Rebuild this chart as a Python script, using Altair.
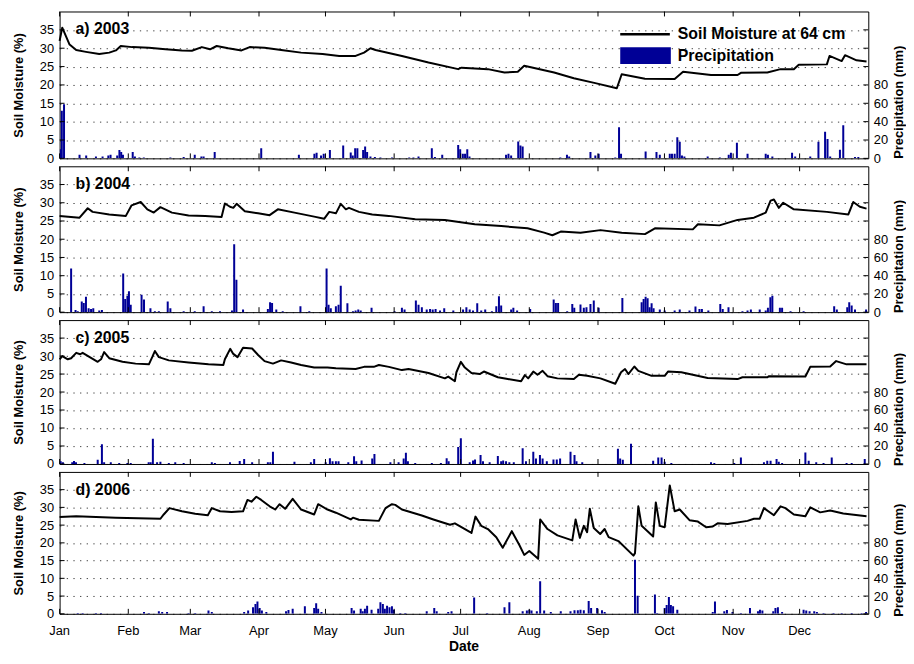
import altair as alt
import pandas as pd

MONTHS = ["Jan", "Feb", "Mar", "Apr", "May", "Jun", "Jul", "Aug", "Sep", "Oct", "Nov", "Dec"]
MONTH_START = [0, 31, 59, 90, 120, 151, 181, 212, 243, 273, 304, 334]
PANEL_LABELS = ["a) 2003", "b) 2004", "c) 2005", "d) 2006"]
SM_TICKS = [0, 5, 10, 15, 20, 25, 30, 35]
PR_TICKS = [0, 20, 40, 60, 80]
X_TITLE = "Date"

# Soil moisture at 64 cm (%), day-of-year and value
SM_DAYS_2003 = [0, 1.2, 4.5, 7.5, 11.9, 17.9, 22.4, 25.4, 27.6, 32.8, 40.3, 47.8, 55.2, 59.7, 64.2, 67.9, 70.9, 76.1, 82.1, 85.8, 92.5, 100, 109, 118.7, 126.2, 133.6, 137.4, 140.3, 142.6, 154.5, 166.5, 179.9, 181.4, 193.3, 200.8, 206.8, 209.7, 223.2, 232.1, 241.8, 251.5, 253.7, 264.2, 277.6, 281.4, 294, 306, 307.5, 319.4, 325.4, 331.4, 333.6, 346.3, 347.5, 353, 354.5, 359.7, 364.2]
SM_2003 = [32.0, 35.6, 31.0, 29.5, 29.0, 28.4, 28.8, 29.4, 30.6, 30.3, 30.1, 29.7, 29.4, 29.3, 30.3, 29.7, 30.6, 30.0, 29.4, 30.3, 30.1, 29.5, 28.8, 28.4, 27.9, 27.9, 28.8, 30.0, 29.5, 27.9, 26.1, 24.3, 24.7, 24.3, 23.4, 23.6, 25.2, 23.4, 21.8, 20.5, 19.1, 22.9, 21.7, 21.6, 23.6, 22.7, 22.7, 23.3, 23.4, 24.3, 24.3, 25.5, 25.6, 27.9, 26.5, 28.1, 26.7, 26.4]

SM_DAYS_2004 = [0, 9, 12.7, 14.9, 22.4, 29.9, 32.5, 36.6, 39.6, 42.5, 45.5, 50.7, 58.2, 65.7, 73.1, 74.6, 76.9, 78.4, 79.9, 83.6, 89.6, 94.8, 98.5, 106, 114.9, 119.4, 121.7, 124.7, 126.9, 129.2, 130.6, 135.1, 141.1, 148.6, 160.5, 173.9, 187.4, 199.3, 211.2, 218.7, 222.4, 226.2, 235.1, 244.1, 253.7, 264.2, 268.7, 285.8, 288.1, 297.8, 306, 313.4, 318.7, 320.9, 322.4, 324.6, 326.6, 331.4, 346.3, 356, 358.2, 361.2, 364.2]
SM_2004 = [26.4, 25.9, 28.5, 27.5, 26.8, 26.4, 29.3, 30.2, 28.2, 27.3, 28.8, 27.3, 26.5, 26.4, 26.1, 29.8, 28.9, 28.6, 29.7, 27.7, 27.1, 26.6, 28.2, 27.3, 26.2, 25.6, 27.5, 27.1, 29.7, 28.2, 28.6, 27.5, 26.8, 26.4, 25.5, 25.3, 24.1, 23.6, 23.0, 21.8, 21.1, 22.1, 21.8, 22.5, 21.8, 21.4, 23.0, 22.7, 24.1, 23.8, 25.3, 25.9, 27.3, 30.6, 30.9, 28.6, 30.0, 28.2, 27.5, 26.8, 30.2, 28.9, 28.4]

SM_DAYS_2005 = [0, 1.2, 3.7, 5.2, 7.5, 9.3, 10.4, 17.2, 18.7, 20.1, 22.4, 28.4, 34.3, 40.3, 41.8, 43, 44.8, 49.3, 58.2, 67.2, 73.9, 74.6, 77, 78.4, 80.3, 82.8, 86.9, 89.6, 92.5, 96.3, 100, 104.5, 109, 114.9, 120.9, 124.7, 133.6, 137.4, 141.8, 144.1, 148.6, 154.5, 157.5, 166.5, 173.9, 175.4, 178.4, 179.1, 181.1, 182.9, 185.9, 189.6, 191.5, 197.8, 202.3, 208.3, 210, 211.5, 213.8, 215.7, 218, 220.2, 224.7, 232.1, 234.4, 238.1, 244.1, 250.8, 253.4, 255.2, 256.7, 259.4, 261.2, 267.2, 273.1, 274.6, 280.6, 292.5, 306, 308.2, 319.4, 320.2, 336.6, 338.8, 347.8, 350.5, 355.2, 364.2]
SM_2005 = [29.1, 30.0, 29.1, 29.4, 30.9, 30.5, 30.9, 28.4, 29.1, 31.1, 29.4, 28.4, 27.9, 27.7, 29.7, 31.4, 29.7, 28.8, 28.2, 27.7, 27.5, 29.1, 32.0, 30.6, 29.7, 32.3, 32.1, 30.3, 28.6, 27.9, 28.8, 28.2, 27.5, 26.8, 26.8, 26.6, 26.4, 27.0, 27.0, 27.5, 27.0, 26.1, 26.4, 25.3, 23.8, 24.3, 23.0, 25.5, 28.4, 26.8, 25.3, 25.0, 25.7, 24.1, 23.6, 23.0, 24.7, 23.8, 25.7, 24.8, 25.9, 24.4, 23.8, 23.6, 24.8, 24.5, 23.8, 22.3, 25.5, 26.4, 25.0, 27.1, 25.9, 24.5, 24.5, 25.7, 25.5, 23.9, 23.6, 24.1, 24.1, 24.4, 24.3, 27.0, 27.1, 28.6, 27.7, 27.7]

SM_DAYS_2006 = [0, 7.5, 25.4, 45.5, 47, 49.6, 55.2, 61.2, 66.9, 68.7, 72.4, 77.6, 82.8, 84.8, 86.6, 88.8, 91, 94.8, 97.3, 99.3, 101.8, 105.2, 109, 114.9, 116.7, 120.9, 124.7, 131.4, 132.4, 135.1, 144.1, 147.1, 150, 151.5, 154.5, 163.5, 168.7, 176.2, 178.4, 185.9, 187.7, 190.3, 193.3, 197.1, 200, 204.1, 207.5, 209.7, 212, 216, 216.9, 220.2, 224.7, 231.4, 232.9, 234.8, 236.6, 238.1, 239.3, 241.1, 244, 246, 247.8, 252.2, 259, 259.7, 261.2, 262.7, 267.9, 269.1, 270.9, 273.1, 275.4, 277.6, 279.9, 284.3, 288.1, 291.8, 294.8, 297, 301.5, 310.5, 313.4, 316, 317.9, 322.4, 325.4, 327.6, 331.4, 336.6, 338.8, 343.3, 347.8, 353.7, 364.2]
SM_2006 = [27.3, 27.5, 27.1, 26.8, 28.0, 29.8, 28.9, 28.2, 27.8, 29.8, 28.9, 28.7, 28.9, 32.1, 31.6, 33.0, 32.1, 30.3, 29.4, 30.9, 29.6, 32.4, 29.4, 28.0, 30.9, 29.4, 28.5, 26.6, 27.1, 26.5, 26.2, 29.8, 30.9, 30.7, 29.4, 27.7, 26.6, 25.1, 25.5, 22.8, 27.4, 24.8, 23.9, 21.6, 18.6, 23.3, 19.4, 16.6, 17.7, 15.5, 26.6, 23.9, 22.1, 20.7, 26.6, 21.4, 24.8, 23.0, 29.6, 24.2, 22.5, 23.9, 21.6, 20.5, 16.4, 17.1, 30.3, 24.8, 21.8, 31.4, 24.8, 24.4, 36.2, 28.9, 29.4, 26.4, 26.0, 24.4, 24.6, 25.5, 25.3, 26.2, 26.8, 26.8, 29.8, 27.8, 30.3, 29.8, 28.0, 27.5, 30.0, 28.6, 29.1, 28.3, 27.5]

# Daily precipitation (mm): [day-of-year, mm]
PR_2003 = [[0.5, 10], [1, 52], [2, 59], [9, 4], [12, 3], [16.4, 2], [19.4, 2], [22, 3], [23, 4], [26, 3], [27, 9], [27.8, 7], [28.6, 4], [33, 7], [34, 2], [36, 1], [38, 1], [50, 1], [56, 1.5], [61, 4], [64, 2], [65, 2], [70, 7], [91, 11], [108, 4], [115, 5], [116, 6], [118, 3], [119.2, 5], [122, 9], [128, 14], [131.4, 6.5], [132.3, 3], [133.4, 11], [134.4, 11], [137, 9], [137.9, 13], [138.8, 7], [140.3, 2], [142.3, 1.5], [144.8, 1], [150, 1], [157.8, 1], [159.7, 1], [162, 2], [168, 11], [169.4, 1.5], [172.7, 4], [179.9, 14.5], [180.8, 10], [182, 5], [183, 5], [184, 10], [185, 2], [201.5, 4], [202.6, 5], [203.8, 3], [207, 18.5], [208, 14], [209, 13], [226, 1], [229, 4], [230, 2], [239.6, 7], [241.8, 3], [243.3, 5], [250.8, 1], [252.5, 34], [253.4, 5], [264.5, 7.5], [269.4, 7], [270.9, 4], [275.4, 5], [276.4, 5], [277.6, 5], [278.8, 23], [279.9, 18], [280.9, 3], [282, 2], [292.5, 2], [298, 1], [302, 4], [303, 6], [305.7, 17], [310.5, 5], [318.7, 5], [319.7, 4], [321.7, 2], [330.6, 6], [332, 2], [338.8, 2], [342.5, 18], [345.5, 29], [346.6, 21], [347.8, 2], [352.2, 9.5], [353.7, 36], [359, 1.5], [360.5, 1.5]]

PR_2004 = [[5.2, 48], [7.2, 2.5], [8.2, 1], [10, 11.6], [10.9, 10], [11.9, 17], [13.1, 4.4], [14.2, 3.6], [15.2, 4.4], [17.9, 1.8], [19.1, 2.5], [28.7, 42.5], [29.6, 14.5], [30.6, 18], [31.3, 23], [32.1, 8], [37, 19], [38.1, 14], [41, 4.4], [43, 1], [44.8, 1], [48.8, 11.6], [50, 4.4], [56, 1], [61, 1], [65, 6.5], [68.7, 1], [72.4, 1], [77.8, 1.8], [78.8, 74.5], [79.8, 35.6], [82.8, 3], [94, 3.6], [95, 11], [95.9, 10], [97.8, 3], [100.7, 1], [108.7, 6.5], [112.7, 1], [120.5, 48], [121.4, 8], [122.4, 4.4], [124.7, 6.5], [125.9, 8], [126.9, 29], [129.9, 9.8], [132.4, 1], [133.6, 1.8], [134.8, 3], [135.9, 1.8], [140.8, 4.7], [151.2, 1], [154.5, 4.7], [155.7, 3], [160.8, 12.7], [162, 8], [163.5, 5.5], [165.7, 3], [167.2, 3.6], [168.4, 3], [169.7, 3.6], [171.7, 1.8], [173.6, 4.4], [177.7, 1.8], [182.1, 3], [183.6, 5.5], [185.1, 3], [186.6, 1.8], [188.5, 9.8], [190.3, 1.8], [192.1, 3], [195.1, 1], [197.1, 6.5], [198.3, 17.5], [199.3, 7.3], [203.8, 3], [204.8, 4.7], [206.5, 1.8], [212.4, 3.6], [223, 14], [224, 10], [225, 10], [229.1, 1], [231.4, 9], [232.3, 4.7], [235.1, 8.4], [236.6, 4.7], [237.8, 5.5], [239.6, 9], [241.1, 12.7], [243.3, 4.7], [254, 15.6], [262.7, 11], [263.6, 14.5], [264.5, 17], [265.4, 15.3], [266.3, 5.5], [267.2, 9.8], [268.1, 4.4], [270.9, 3], [273.1, 1.8], [277.6, 1.8], [279.9, 3], [284.3, 1.8], [287, 6.2], [288.8, 3.6], [289.9, 3.6], [292.8, 1.8], [298.2, 9], [299.3, 3.6], [301.9, 5.5], [308.2, 1], [310.5, 1.8], [312, 3], [316, 3], [318.7, 1.8], [319.7, 4.7], [320.8, 16.4], [321.7, 18], [325.1, 4.7], [326.1, 4.7], [329.9, 1], [335.8, 1], [349.6, 6.5], [350.8, 3], [355.5, 5.5], [356.4, 11], [357.5, 7.3], [359, 3], [364, 3]]

PR_2005 = [[0.5, 3], [1.5, 2], [5.7, 2], [6.5, 3.3], [7.4, 2], [11.2, 1], [17.2, 4.7], [19.1, 21.8], [20.1, 2], [23.1, 2], [26.9, 1], [30.6, 1], [32.1, 1], [40.2, 2], [41.1, 2], [42.1, 28], [44, 2], [45.5, 2.5], [49.3, 1], [52.2, 2], [56, 1], [68.7, 2], [70.1, 1], [76.9, 2], [81.3, 3.3], [83.3, 5.5], [86.9, 2], [94, 2], [95.1, 2], [96.3, 13.5], [106, 2.5], [113.4, 2], [114.9, 5.5], [120.1, 2], [122, 6.5], [123.2, 3], [124.7, 3], [125.9, 3], [130.3, 2], [132.9, 8.5], [133.9, 3], [136.3, 4], [141.1, 6], [142.1, 11], [149.3, 2], [153, 2], [155.3, 6], [156.3, 12.5], [157.2, 3], [160.5, 1], [168, 1], [172.1, 1], [174.7, 6.5], [175.6, 3], [179.9, 19], [181.1, 28.5], [185.1, 2], [186.6, 4], [187.5, 5], [190, 10], [191.1, 3], [194.1, 2], [197.8, 9], [199.3, 3], [200.2, 4], [201.5, 3], [203, 2], [205, 2], [209, 17.5], [210.5, 3], [213.8, 13.5], [215, 6], [216.8, 10], [218, 6], [219.9, 3], [222.9, 5], [224.4, 5], [225.9, 6], [230.6, 13.5], [232.4, 10], [233.3, 3], [235.9, 2], [252, 17], [253, 6], [254.2, 4.7], [257.9, 22.5], [267.9, 3.6], [270.2, 7.3], [271.7, 7.3], [273.1, 2.5], [276.1, 1], [294, 2], [295.5, 1], [304.5, 1], [307.5, 7.3], [317.9, 2], [319.4, 3.6], [320.9, 3.6], [323.6, 5.5], [324.6, 2.5], [326.1, 1], [336.6, 12.7], [338.1, 3.6], [341.5, 2], [344.8, 1], [348.5, 7.3], [355.2, 1], [357.5, 1], [363.4, 5.5]]

PR_2006 = [[8.2, 1], [10.4, 1], [16.4, 1], [18.7, 1], [38.1, 2], [40.3, 1], [44.8, 3], [46.3, 2], [48.5, 2], [58.2, 1], [61.2, 1], [67.2, 3.6], [68.7, 2], [83.3, 2], [85.1, 3.6], [87.3, 7.3], [88.4, 11], [89.3, 14], [90.3, 6.5], [91.3, 3.6], [93.3, 2], [102.2, 3], [103.3, 4.4], [105.2, 5.8], [110.7, 8.4], [114.9, 6.5], [115.8, 12], [116.7, 5.8], [118.2, 2], [131.8, 6.5], [132.9, 3.6], [135.9, 5.8], [136.8, 3], [137.8, 5.8], [138.8, 9], [140.8, 4.7], [143.8, 5.8], [144.8, 13], [145.9, 11], [146.8, 5.8], [147.8, 9], [148.9, 7.3], [150, 8.4], [150.9, 4.7], [153.8, 1], [156, 1], [165.7, 3], [169.1, 6.5], [170.2, 3], [175.4, 2], [176.9, 3], [187.1, 18.5], [193, 1], [200.8, 7.3], [203, 13], [209, 3], [210.9, 3.6], [212, 4.7], [213, 3.6], [215.4, 3], [216.9, 36.7], [218.7, 3.6], [221.7, 2], [226.2, 3], [230.6, 3], [232.4, 4], [233.9, 4], [235.1, 4.7], [236.6, 4], [238.8, 14.5], [239.9, 6.5], [242.6, 6.5], [244.8, 4], [246, 2], [259.7, 61], [260.9, 20.4], [268.7, 21.8], [269.7, 1], [273.1, 6.5], [274, 10], [275, 19], [275.9, 10], [276.9, 8.4], [278.8, 4.7], [294.8, 2], [295.8, 13.8], [300, 3], [301.2, 4.4], [303.7, 2], [307.5, 1], [311.6, 6.5], [315.2, 3], [316.1, 4.7], [317.2, 3.6], [322.1, 3], [323.1, 6.5], [324.2, 7.3], [326.1, 2], [335.8, 4.7], [337, 3.6], [338.5, 3], [340.6, 3], [341.8, 2], [344.8, 1], [349.3, 1], [353, 1], [357.5, 1], [362, 1], [364, 2]]

SERIES = [
    (SM_DAYS_2003, SM_2003, PR_2003),
    (SM_DAYS_2004, SM_2004, PR_2004),
    (SM_DAYS_2005, SM_2005, PR_2005),
    (SM_DAYS_2006, SM_2006, PR_2006),
]

LEGEND_LABELS = ["Soil Moisture at 64 cm", "Precipitation"]

FONT = "Liberation Sans"
BLUE = "#000096"
W = 815
HEIGHTS = [148, 147, 145, 143]

one = pd.DataFrame({"k": [0]})


def sm_scale():
    return alt.Scale(domain=[0, 40], nice=False, zero=True)


def make_panel(idx, sm_days, sm_vals, pr, bottom):
    h = HEIGHTS[idx]
    sm_df = pd.DataFrame({"day": sm_days, "sm": sm_vals})
    pr_df = pd.DataFrame(pr, columns=["day", "mm"])
    xs = alt.Scale(domain=[0, 365], nice=False, zero=False)
    yp = alt.Scale(domain=[0, 160], nice=False, zero=True)

    left_axis = alt.Axis(orient="left", values=SM_TICKS, grid=True, gridDash=[1.3, 5.4],
                         gridColor="black", gridOpacity=0.75, gridWidth=1,
                         ticks=False, domain=False, title="Soil Moisture (%)",
                         titleFontSize=13, titleFontWeight="bold", titlePadding=14,
                         labelFontSize=13, labelPadding=6, labelOverlap=False)
    right_axis = alt.Axis(orient="right", values=PR_TICKS, grid=False, ticks=False,
                          domain=False, title="Precipitation (mm)", titleFontSize=13,
                          titleFontWeight="bold", titlePadding=5, titleAngle=270,
                          titleBaseline="top", titleY=h / 2 + 17, labelFontSize=13,
                          labelPadding=5, labelOverlap=False)

    bars = alt.Chart(pr_df).transform_calculate(
        x0="datum.day - 0.45", x1="datum.day + 0.45"
    ).mark_bar(color=BLUE, clip=True).encode(
        x=alt.X("x0:Q", scale=xs, axis=None),
        x2="x1:Q",
        y=alt.Y("mm:Q", scale=yp, axis=right_axis),
        y2=alt.datum(0),
    )

    line = alt.Chart(sm_df).mark_line(color="black", strokeWidth=2, strokeJoin="round").encode(
        x=alt.X("day:Q", scale=xs, axis=None),
        y=alt.Y("sm:Q", scale=sm_scale(), axis=left_axis),
    )

    tick_df = pd.DataFrame({"v": SM_TICKS})
    lt = alt.Chart(tick_df).mark_rule(color="black").encode(
        y=alt.Y("v:Q", scale=sm_scale(), axis=None), x=alt.value(0), x2=alt.value(5))
    rt = alt.Chart(tick_df).mark_rule(color="black").encode(
        y=alt.Y("v:Q", scale=sm_scale(), axis=None), x=alt.value(W - 5), x2=alt.value(W))
    m_df = pd.DataFrame({"d": MONTH_START, "m": MONTHS})
    tt = alt.Chart(m_df).mark_rule(color="black").encode(
        x=alt.X("d:Q", scale=xs, axis=None), y=alt.value(0), y2=alt.value(5))
    bt = alt.Chart(m_df).mark_rule(color="black").encode(
        x=alt.X("d:Q", scale=xs, axis=None), y=alt.value(h - 5), y2=alt.value(h))

    label = alt.Chart(pd.DataFrame({"t": [PANEL_LABELS[idx]]})).mark_text(
        align="left", baseline="middle", fontSize=16, fontWeight="bold", font=FONT,
        color="black").encode(x=alt.value(16), y=alt.value(18), text="t:N")

    layers = [bars, line, lt, rt, tt, bt, label]

    if bottom:
        mlab = alt.Chart(m_df).mark_text(
            align="center", baseline="middle", fontSize=13, font=FONT, color="black"
        ).encode(x=alt.X("d:Q", scale=xs, axis=None), y=alt.value(h + 17), text="m:N")
        xtitle = alt.Chart(pd.DataFrame({"t": [X_TITLE]})).mark_text(
            align="center", baseline="middle", fontSize=14, fontWeight="bold", font=FONT,
            color="black").encode(x=alt.value(W / 2), y=alt.value(h + 33), text="t:N")
        layers += [mlab, xtitle]

    if idx == 0:
        leg_line = alt.Chart(one).mark_rule(color="black", strokeWidth=2.5).encode(
            x=alt.value(565), x2=alt.value(615), y=alt.value(23))
        leg_rect = alt.Chart(one).mark_rect(color=BLUE).encode(
            x=alt.value(565), x2=alt.value(616), y=alt.value(36), y2=alt.value(53))
        leg_t1 = alt.Chart(pd.DataFrame({"t": [LEGEND_LABELS[0]]})).mark_text(
            align="left", baseline="middle", fontSize=16, fontWeight="bold", font=FONT,
            color="black").encode(x=alt.value(623), y=alt.value(23), text="t:N")
        leg_t2 = alt.Chart(pd.DataFrame({"t": [LEGEND_LABELS[1]]})).mark_text(
            align="left", baseline="middle", fontSize=16, fontWeight="bold", font=FONT,
            color="black").encode(x=alt.value(623), y=alt.value(45), text="t:N")
        layers += [leg_line, leg_rect, leg_t1, leg_t2]

    return alt.layer(*layers).resolve_scale(y="independent").properties(
        width=W, height=h)


panels = [make_panel(i, s[0], s[1], s[2], i == 3) for i, s in enumerate(SERIES)]

chart = alt.vconcat(*panels, spacing=8, bounds="flush").properties(
    padding={"left": 4, "top": 0, "right": 0, "bottom": 0}
).configure_view(stroke="black", strokeWidth=1).configure_axis(
    labelFont=FONT, titleFont=FONT, labelColor="black", titleColor="black"
).configure_text(font=FONT)

chart.save("out.html", embed_options={"renderer": "svg", "actions": False})
